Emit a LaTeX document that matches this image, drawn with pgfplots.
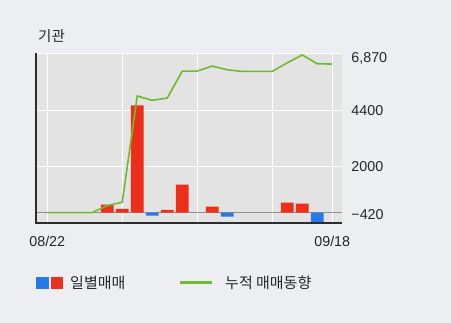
\documentclass[border=0pt]{standalone}
\usepackage{pgfplots}
\pgfplotsset{compat=1.18}
\usepackage{fontspec}
\setmainfont{Liberation Sans}
\newfontfamily\kr{Noto Sans CJK KR}
\definecolor{figbg}{RGB}{237,238,242}
\definecolor{plotbg}{RGB}{227,227,227}
\definecolor{barred}{RGB}{236,46,26}
\definecolor{barblue}{RGB}{38,122,232}
\definecolor{linegreen}{RGB}{112,186,46}
\definecolor{zerogray}{RGB}{145,145,145}
\definecolor{axisdark}{RGB}{45,45,45}
\begin{document}
\begin{tikzpicture}
\fill[figbg] (-36pt,-99.7pt) rectangle (415pt,223.3pt);
\begin{axis}[
  at={(0,0)}, anchor=south west,
  scale only axis, width=305.7pt, height=170pt,
  xmin=-0.75, xmax=19.63, ymin=-460, ymax=6860,
  axis background/.style={fill=plotbg},
  axis line style={draw=none},
  major tick length=0pt,
  xtick={0,5,10,15,19},
  xticklabels={08/22,,,,09/18},
  xmajorgrids, ymajorgrids,
  grid style={white, line width=1.2pt},
  ytick={2000,4400},
  yticklabels={2000,4400},
  extra y ticks={-85,6628},
  extra y tick labels={−420,{6,870}},
  extra y tick style={grid=none},
  yticklabel pos=right,
  yticklabel style={anchor=west, inner sep=0pt, xshift=9.5pt},
  xticklabel style={anchor=north, inner sep=0pt, yshift=-12.7pt},
  tick label style={font=\fontsize{14.3}{16}\selectfont, text=black!85},
  clip=false,
]
\draw[white, line width=1.2pt] (rel axis cs:0,1) -- (rel axis cs:1,1);
\draw[zerogray, line width=1.6pt] (axis cs:-0.75,0) -- (axis cs:19.63,0);
\addplot[ybar, bar width=12.7pt, bar shift=0pt, fill=barred, draw=none] coordinates {
  (4,344) (5,158) (6,4620) (8,115) (9,1206) (11,258) (16,430) (17,388)
};
\addplot[ybar, bar width=12.7pt, bar shift=0pt, fill=barblue, draw=none] coordinates {
  (7,-129) (12,-172) (18,-400)
};
\addplot[linegreen, line width=1.6pt, mark=none] coordinates {
  (0,0) (1,0) (2,0) (3,0) (4,300) (5,448) (6,5020) (7,4835) (8,4935)
  (9,6095) (10,6095) (11,6310) (12,6150) (13,6080) (14,6080) (15,6080)
  (16,6450) (17,6790) (18,6410) (19,6395)
};
\draw[axisdark, line width=2pt] (rel axis cs:0,1) -- (rel axis cs:0,0) -- (rel axis cs:1,0);
\end{axis}
\node[anchor=base west, inner sep=0pt, font=\kr\fontsize{14.5}{16}\selectfont, text=black!85] at (2pt,181.3pt) {기관};
\fill[barblue] (0pt,-65.7pt) rectangle (12.7pt,-53.7pt);
\fill[barred] (14.7pt,-65.7pt) rectangle (27.3pt,-53.7pt);
\node[anchor=base west, inner sep=0pt, font=\kr\fontsize{15}{17}\selectfont, text=black!85] at (34pt,-65pt) {일별매매};
\draw[linegreen, line width=3pt] (144pt,-59.7pt) -- (176pt,-59.7pt);
\node[anchor=base west, inner sep=0pt, font=\kr\fontsize{15}{17}\selectfont, text=black!85] at (189pt,-65pt) {누적 매매동향};
\end{tikzpicture}
\end{document}
